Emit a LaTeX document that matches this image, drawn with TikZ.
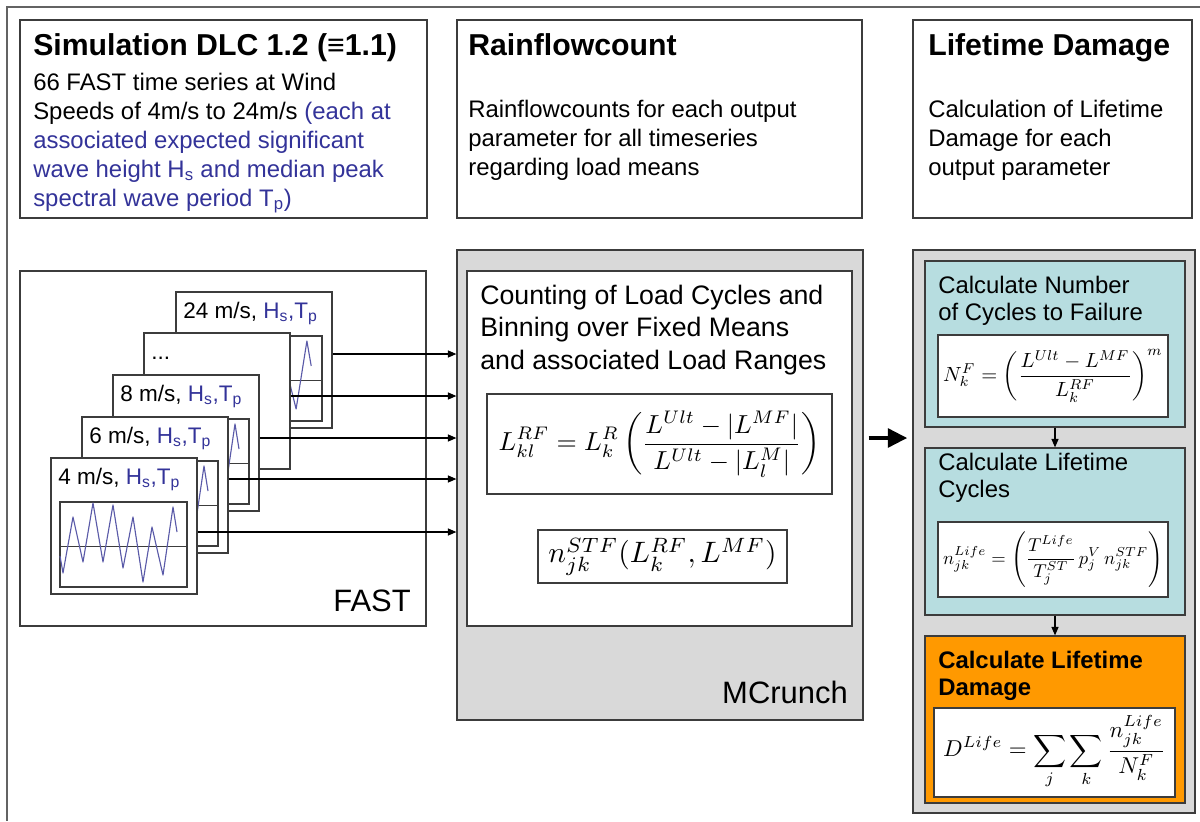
\documentclass[tikz,border=0pt]{standalone}
\usepackage{fontspec}
\setmainfont{Liberation Sans}
\usepackage{amsmath}
\usetikzlibrary{positioning,fit,calc,arrows.meta}
\definecolor{lc}{HTML}{3C3C3C}
\definecolor{blu}{HTML}{333399}
\definecolor{grayfill}{HTML}{D9D9D9}
\definecolor{cyanfill}{HTML}{B7DDE0}
\definecolor{orangefill}{HTML}{FF9900}
\definecolor{wavec}{HTML}{5A5AA8}
\newcommand\hst{\textcolor{blu}{H\textsubscript{s},T\textsubscript{p}}}

\begin{document}
\begin{tikzpicture}[x=0.025cm,y=-0.025cm,
    box/.style={draw=lc,line width=0.9pt,inner sep=0pt},
    wbox/.style={box,fill=white},
    card/.style={box,fill=white},
    title/.style={inner sep=0pt,anchor=base west,font=\fontsize{21.5}{26}\selectfont\bfseries},
    body/.style={inner sep=0pt,anchor=base west,align=left,font=\fontsize{17}{20.6}\selectfont},
    step2/.style={inner sep=0pt,anchor=base west,align=left,font=\fontsize{17}{18.9}\selectfont},
    cardlbl/.style={inner sep=0pt,anchor=base west,font=\fontsize{16}{19}\selectfont},
    big/.style={inner sep=0pt,anchor=base east,font=\fontsize{22}{26}\selectfont},
    eq/.style={inner sep=0pt},
    wave/.style={draw=wavec,line width=0.8pt,line join=round},
    arr/.style={-{Triangle[length=6pt,width=5pt]},line width=0.8pt},
    bigarr/.style={-{Triangle[length=14pt,width=13pt]},line width=3.5pt}]
\useasboundingbox (0,0) rectangle (1200,821);
\fill[white] (0,0) rectangle (1200,821);
% outer frame
\draw[lc!80,line width=0.8pt] (1200,7) -- (7,7) -- (7,821);

% top row (multi-line nodes sit on their last baseline)
\node[box,fit={(20,20) (427,218)}] (sim) {};
\node[box,fit={(457,20) (862,218)}] (rain) {};
\node[box,fit={(913,20) (1192,218)}] (life) {};
\node[title] at (33,56) {Simulation DLC 1.2 (≡1.1)};
\node[body] at (33,206) {66 FAST time series at Wind\\
  Speeds of 4m/s to 24m/s \textcolor{blu}{(each at}\\
  \textcolor{blu}{associated expected significant}\\
  \textcolor{blu}{wave height H\textsubscript{s} and median peak}\\
  \textcolor{blu}{spectral wave period T\textsubscript{p})}};
\node[title] at (468,56) {Rainflowcount};
\node[body] at (468,175) {Rainflowcounts for each output\\
  parameter for all timeseries\\regarding load means};
\node[title] at (928,56) {Lifetime Damage};
\node[body] at (928,175) {Calculation of Lifetime\\Damage for each\\output parameter};

% FAST time series
\node[wbox,fit={(20,271) (426,626)}] (fast) {};
\node[big] at (411,611) {FAST};
\foreach \nm/\cx/\cy/\cw/\txt/\plt in {
    c24/176/292/156/{24 m/s, \hst}/1,
    cdots/144/333/146/{...}/0,
    c8/113/375/146/{8 m/s, \hst}/1,
    c6/82/417/146/{6 m/s, \hst}/1,
    c4/51/458/146/{4 m/s, \hst}/1}
{
  \node[card,fit={(\cx,\cy) (\cx+\cw,\cy+136)}] (\nm) {};
  \node[cardlbl] at (\cx+7,\cy+26) {\txt};
  \ifnum\plt=1
    \draw[box,fill=white] (\cx+9,\cy+44) rectangle (\cx+\cw-10,\cy+129);
    \draw[lc,line width=0.6pt] (\cx+9,\cy+88) -- (\cx+\cw-10,\cy+88);
    \begin{scope}[shift={(\cx+9,\cy)},xscale={(\cw-19)/127}]
      \draw[wave] (0,98) -- (3,115) -- (13,59) -- (23,104) -- (33,45)
        -- (43,104) -- (53,47) -- (63,110) -- (73,59) -- (83,124)
        -- (92,69) -- (103,117) -- (113,49) -- (117,74);
    \end{scope}
  \fi
}

% MCrunch
\node[box,fill=grayfill,fit={(457,250) (863,720)}] (mcrunch) {};
\node[wbox,fit={(467,271) (852,626)}] (count) {};
\node[inner sep=0pt,anchor=base west,align=left,font=\fontsize{19}{23.1}\selectfont]
  at (480,369) {Counting of Load Cycles and\\Binning over Fixed Means\\and associated Load Ranges};
\node[wbox,fit={(487,394) (832,494)}] (rfbox) {};
\node[eq] (rfeq) at (rfbox) {\scalebox{1.85}{$\displaystyle
  L^{RF}_{kl} = L^R_k\left(\frac{L^{Ult}-|L^{MF}|}{L^{Ult}-|L^M_l|}\right)$}};
\node[wbox,fit={(538,530) (787,583)}] (stfbox) {};
\node[eq] (stfeq) at (stfbox) {\scalebox{2.1}{$n^{STF}_{jk}(L^{RF}_k, L^{MF})$}};
\node[big] at (848,703) {MCrunch};

% lifetime damage steps
\node[box,fill=grayfill,fit={(913,250) (1195,813)}] (damage) {};
\node[box,fill=cyanfill,fit={(925,261) (1185,427)}] (nf) {};
\node[box,fill=cyanfill,fit={(925,448) (1185,615)}] (nlife) {};
\node[box,fill=orangefill,fit={(925,636) (1185,803)}] (dlife) {};
\node[step2] at (938,320) {Calculate Number\\of Cycles to Failure};
\node[step2] at (938,497) {Calculate Lifetime\\Cycles};
\node[step2,font=\fontsize{17}{18.9}\selectfont\bfseries] at (938,695) {Calculate Lifetime\\Damage};
\node[wbox,fit={(938,335) (1168,417)}] (nfbox) {};
\node[eq] (nfeq) at (nfbox) {\scalebox{1.46}{$\displaystyle
  N^F_k = \left(\frac{L^{Ult}-L^{MF}}{L^{RF}_k}\right)^{m}$}};
\node[wbox,fit={(938,522) (1168,597)}] (nlifebox) {};
\node[eq] (nlifeeq) at (nlifebox) {\scalebox{1.32}{$\displaystyle
  n^{Life}_{jk} = \left(\frac{T^{Life}}{T^{ST}_j}\,p^V_j\,n^{STF}_{jk}\right)$}};
\node[wbox,fit={(934,708) (1175,797)}] (dlifebox) {};
\node[eq] (dlifeeq) at (dlifebox) {\scalebox{1.63}{$\displaystyle
  D^{Life} = \sum_j\sum_k\frac{n^{Life}_{jk}}{N^F_k}$}};

% connectors
\foreach \nm/\dy in {c24/-6,cdots/-5,c8/-5,c6/-6,c4/6}
  \draw[arr] ($(\nm.east)+(0,\dy)$) coordinate (t) -- (t -| mcrunch.west);
\draw[bigarr,shorten <=3.5pt,shorten >=3.5pt] ($(mcrunch.east)+(0,-47)$) coordinate (b) -- (b -| damage.west);
\draw[arr] (nf) -- (nlife);
\draw[arr] (nlife) -- (dlife);
\end{tikzpicture}
\end{document}
